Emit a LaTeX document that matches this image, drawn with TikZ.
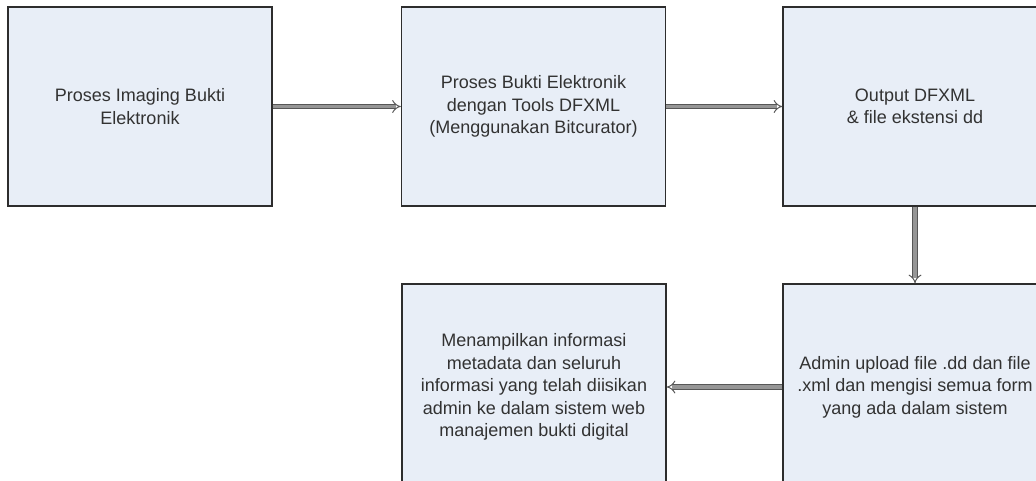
\documentclass[tikz,border=0pt]{standalone}
\usepackage{fontspec}
\setmainfont{Liberation Sans}
\definecolor{boxfill}{RGB}{232, 238, 247}
\definecolor{boxline}{RGB}{45, 45, 45}
\definecolor{textgray}{RGB}{50, 50, 50}
\definecolor{arrowgray}{RGB}{150, 150, 150}
\usetikzlibrary{arrows.meta,positioning}

\begin{document}
\begin{tikzpicture}[x=1pt, y=-1pt,
    prosesbox/.style={draw=boxline, line width=1.4pt, fill=boxfill, text=textgray,
      rectangle, minimum width=264pt, minimum height=199pt, align=center,
      font=\fontsize{18}{22.5}\selectfont},
    flowarrow/.style={draw=boxline!80, line width=1pt, double=arrowgray,
      double distance=3.5pt, -{Implies[length=5pt]}}]
  \useasboundingbox (0,0) rectangle (1036,481);
  \clip (0,0) rectangle (1036,481);

  % Baris atas
  \node[prosesbox] (imaging) at (140,106.5) {Proses Imaging Bukti\\Elektronik};
  \node[prosesbox] (proses) at (533.5,106.5) {Proses Bukti Elektronik\\dengan Tools DFXML\\(Menggunakan Bitcurator)};
  \node[prosesbox] (output) at (915,106.5) {Output DFXML\\\& file ekstensi dd};

  % Baris bawah
  \node[prosesbox, minimum height=206pt] (tampil) at (534,387) {Menampilkan informasi\\metadata dan seluruh\\informasi yang telah diisikan\\admin ke dalam sistem web\\manajemen bukti digital};
  \node[prosesbox, minimum height=206pt] (upload) at (915,387) {Admin upload file .dd dan file\\.xml dan mengisi semua form\\yang ada dalam sistem};

  % Alur proses
  \draw[flowarrow] (imaging) -- (proses);
  \draw[flowarrow] (proses) -- (output);
  \draw[flowarrow] (output) -- (upload);
  \draw[flowarrow] (upload) -- (tampil);
\end{tikzpicture}
\end{document}
